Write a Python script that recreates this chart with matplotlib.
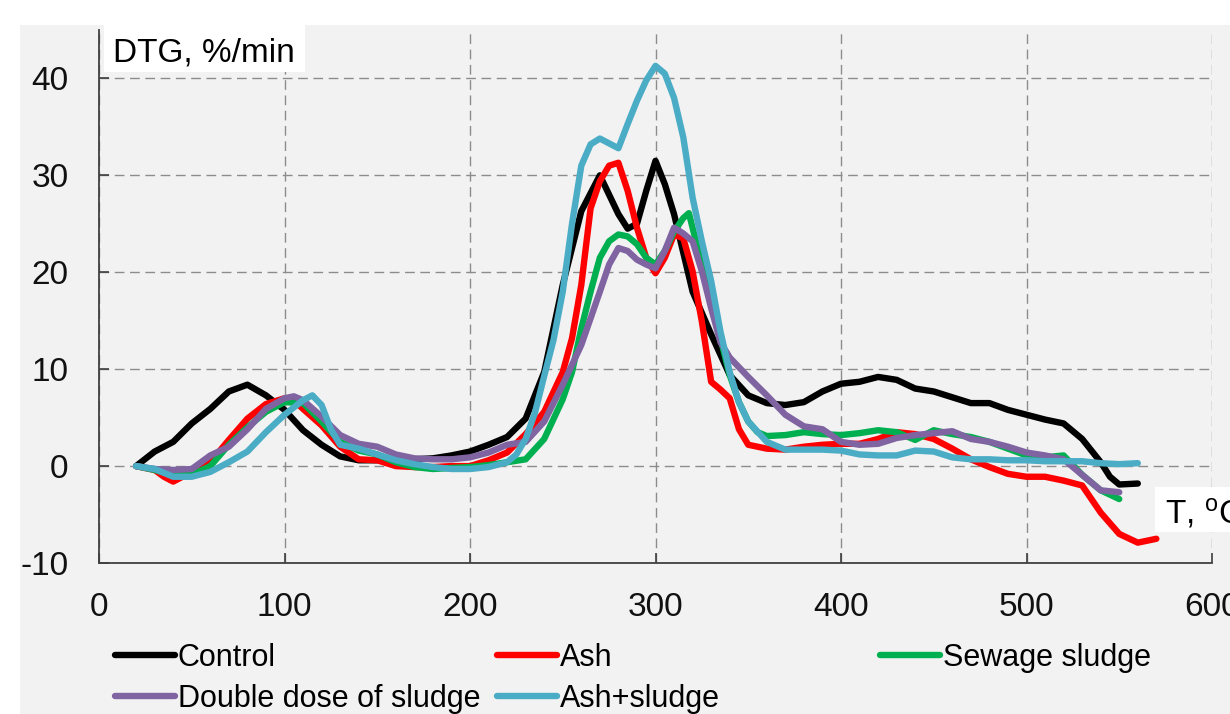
import matplotlib
matplotlib.use('Agg')
import matplotlib.pyplot as plt
from matplotlib.patches import Rectangle

# temperature (degC) and DTG (%/min)
control_t = [20, 30, 40, 50, 60, 70, 80, 90, 100, 110,
             120, 130, 140, 150, 160, 170, 180, 190, 200, 210,
             220, 230, 240, 250, 260, 270, 275, 280, 285, 290,
             295, 300, 305, 310, 320, 330, 340, 350, 360, 370,
             380, 390, 400, 410, 420, 430, 440, 450, 460, 470,
             480, 490, 500, 510, 520, 530, 540, 545, 550, 560]
control_v = [0, 1.5, 2.5, 4.4, 5.9, 7.7, 8.4, 7.3, 5.8, 3.7,
             2.2, 1.0, 0.6, 0.6, 0.6, 0.7, 0.8, 1.1, 1.5, 2.2,
             3.0, 4.9, 9.7, 18.7, 26.3, 30.0, 28.0, 26.0, 24.5, 25.0,
             28.4, 31.5, 29.1, 26.0, 18.0, 13.6, 9.4, 7.3, 6.5, 6.3,
             6.6, 7.7, 8.5, 8.7, 9.2, 8.9, 8.0, 7.7, 7.1, 6.5,
             6.5, 5.8, 5.3, 4.8, 4.4, 2.8, 0.4, -1.1, -1.9, -1.8]

ash_t = [20, 30, 35, 40, 45, 50, 60, 70, 80, 90,
         100, 105, 110, 120, 130, 140, 150, 160, 170, 180,
         190, 200, 210, 220, 230, 240, 250, 255, 260, 265,
         270, 275, 280, 285, 290, 295, 300, 305, 310, 315,
         320, 325, 330, 335, 340, 345, 350, 360, 370, 380,
         390, 400, 410, 420, 430, 440, 450, 460, 470, 480,
         490, 500, 510, 520, 530, 540, 550, 560, 570]
ash_v = [0, -0.4, -1.1, -1.6, -1.1, -0.8, 0.4, 2.7, 4.9, 6.4,
         7.0, 6.8, 5.9, 4.2, 2.0, 0.7, 0.6, 0.0, -0.1, -0.1,
         0.0, 0.0, 0.6, 1.4, 3.3, 5.6, 9.7, 13.2, 18.7, 26.6,
         29.4, 31.0, 31.3, 28.4, 24.6, 21.5, 19.9, 21.5, 23.9, 23.5,
         20.1, 14.9, 8.7, 7.9, 7.0, 3.8, 2.2, 1.8, 1.7, 2.0,
         2.2, 2.3, 2.3, 2.8, 3.5, 3.3, 2.8, 1.8, 0.7, -0.1,
         -0.8, -1.1, -1.1, -1.5, -2.0, -4.8, -7.0, -7.9, -7.5]

sludge_t = [20, 30, 40, 50, 60, 70, 80, 90, 100, 110,
            120, 130, 140, 150, 160, 170, 180, 190, 200, 210,
            220, 230, 240, 250, 255, 260, 265, 270, 275, 280,
            285, 290, 295, 300, 305, 310, 315, 318, 325, 330,
            335, 340, 345, 350, 355, 360, 370, 380, 390, 400,
            410, 420, 430, 440, 450, 460, 470, 480, 490, 500,
            510, 520, 530, 540, 550]
sludge_v = [0, -0.4, -0.9, -0.9, 0.0, 2.2, 4.0, 5.6, 6.6, 6.5,
            4.6, 2.5, 1.6, 1.2, 0.4, -0.1, -0.3, -0.2, -0.1, 0.1,
            0.4, 0.7, 2.8, 6.9, 9.7, 14.2, 18.0, 21.5, 23.2, 23.9,
            23.7, 22.9, 21.5, 20.8, 22.2, 24.2, 25.6, 26.1, 20.8, 17.0,
            13.2, 9.4, 6.6, 4.6, 3.5, 3.1, 3.2, 3.5, 3.3, 3.2,
            3.4, 3.7, 3.5, 2.7, 3.7, 3.3, 3.0, 2.5, 1.8, 1.1,
            0.9, 1.1, -0.9, -2.5, -3.4]

double_t = [20, 30, 40, 50, 60, 70, 80, 90, 100, 105,
            110, 120, 130, 140, 150, 160, 170, 180, 190, 200,
            210, 220, 230, 240, 250, 260, 270, 275, 280, 285,
            290, 295, 300, 305, 310, 315, 320, 325, 330, 335,
            340, 350, 360, 370, 380, 390, 400, 410, 420, 430,
            440, 450, 460, 470, 480, 490, 500, 510, 520, 530,
            540, 550]
double_v = [0, -0.3, -0.4, -0.3, 1.1, 2.0, 3.8, 5.9, 7.0, 7.2,
            6.8, 5.1, 3.2, 2.3, 2.0, 1.2, 0.8, 0.7, 0.7, 0.9,
            1.4, 2.2, 2.5, 4.6, 8.4, 12.5, 18.0, 20.8, 22.5, 22.2,
            21.3, 20.8, 20.4, 22.2, 24.6, 24.0, 23.2, 20.1, 16.3, 12.8,
            11.2, 9.2, 7.3, 5.3, 4.1, 3.8, 2.5, 2.2, 2.3, 2.9,
            3.2, 3.4, 3.6, 2.8, 2.5, 2.0, 1.4, 1.1, 0.7, -0.9,
            -2.5, -2.7]

ashsludge_t = [20, 30, 40, 50, 60, 70, 80, 90, 100, 110,
               115, 120, 125, 130, 140, 150, 160, 170, 180, 190,
               200, 210, 220, 225, 230, 235, 240, 245, 250, 255,
               260, 265, 270, 275, 280, 285, 290, 295, 300, 305,
               310, 315, 320, 325, 330, 335, 340, 345, 350, 360,
               370, 380, 390, 400, 410, 420, 430, 440, 450, 460,
               470, 480, 490, 500, 510, 520, 530, 540, 550, 560]
ashsludge_v = [0, -0.3, -1.1, -1.1, -0.6, 0.4, 1.5, 3.5, 5.3, 6.8,
               7.3, 6.3, 3.8, 2.2, 1.8, 1.2, 0.6, 0.2, -0.1, -0.3,
               -0.3, -0.1, 0.4, 1.2, 2.8, 5.5, 9.3, 13.0, 18.0, 25.0,
               31.0, 33.2, 33.8, 33.3, 32.8, 35.3, 37.7, 39.8, 41.3, 40.5,
               38.0, 33.9, 27.7, 23.2, 19.1, 13.9, 9.7, 6.6, 4.6, 2.5,
               1.7, 1.7, 1.7, 1.6, 1.2, 1.1, 1.1, 1.6, 1.5, 0.9,
               0.7, 0.7, 0.6, 0.6, 0.5, 0.5, 0.5, 0.3, 0.2, 0.3]

W, H = 1230, 714
BG = '#f2f2f2'

plt.rcParams['font.family'] = ['Liberation Sans', 'DejaVu Sans']
plt.rcParams['mathtext.fontset'] = 'custom'
plt.rcParams['mathtext.rm'] = 'Liberation Sans'
plt.rcParams['mathtext.default'] = 'regular'
plt.rcParams['axes.unicode_minus'] = False

fig = plt.figure(figsize=(W / 100, H / 100), dpi=100, facecolor='white')
fig.patches.append(Rectangle((20 / W, 0), 1 - 20 / W, 1 - 25 / H,
                             transform=fig.transFigure, facecolor=BG,
                             edgecolor='none', zorder=-10))

ax = fig.add_axes([99 / W, 1 - 563 / H, (1212 - 99) / W, (563 - 30) / H])
ax.set_facecolor('none')

lw = 4.6
line_kw = dict(lw=lw, solid_capstyle='round', solid_joinstyle='round')
h_control, = ax.plot(control_t, control_v, color='black', label='Control', **line_kw)
h_ash, = ax.plot(ash_t, ash_v, color='#ff0000', label='Ash', **line_kw)
h_sludge, = ax.plot(sludge_t, sludge_v, color='#00b050', label='Sewage sludge', **line_kw)
h_double, = ax.plot(double_t, double_v, color='#8064a2',
                    label='Double dose of sludge', **line_kw)
h_ashsl, = ax.plot(ashsludge_t, ashsludge_v, color='#4bacc6', label='Ash+sludge', **line_kw)

ax.set_xlim(0, 600)
ax.set_ylim(-10, 45)
ax.set_xticks(range(0, 601, 100))
ax.set_yticks(range(-10, 41, 10))
ax.grid(True, color='#8c8c8c', linestyle=(0, (7, 4)), linewidth=1.0)
ax.set_axisbelow(True)
for s in ['top', 'right']:
    ax.spines[s].set_visible(False)
for s in ['left', 'bottom']:
    ax.spines[s].set_color('#404040')
    ax.spines[s].set_linewidth(1.3)
ax.tick_params(direction='in', length=7, width=1.2, color='#404040',
               labelsize=24, labelcolor='#111111')
ax.tick_params(axis='y', pad=22)
ax.tick_params(axis='x', pad=21)

# axis captions in white boxes
fig.patches.append(Rectangle((104 / W, 1 - 72 / H), 201 / W, 47 / H,
                             transform=fig.transFigure, facecolor='white',
                             edgecolor='none', zorder=5))
fig.text(113 / W, 1 - 61 / H, 'DTG, %/min', fontsize=24, va='baseline',
         ha='left', zorder=6)
fig.patches.append(Rectangle((1155 / W, 1 - 532 / H), 75 / W, 45 / H,
                             transform=fig.transFigure, facecolor='white',
                             edgecolor='none', zorder=5))
fig.text(1165 / W, 1 - 523 / H, 'T, $^{o}$C', fontsize=24, va='baseline',
         ha='left', zorder=6)

leg_kw = dict(loc='upper left', frameon=False, fontsize=22, handlelength=1.95,
              handletextpad=0.1, borderpad=0, borderaxespad=0,
              labelspacing=0.36)
fig.legend(handles=[h_control, h_double], bbox_to_anchor=(115 / W, 1 - 643 / H), **leg_kw)
fig.legend(handles=[h_ash, h_ashsl], bbox_to_anchor=(497 / W, 1 - 643 / H), **leg_kw)
fig.legend(handles=[h_sludge], bbox_to_anchor=(880 / W, 1 - 643 / H), **leg_kw)

fig.savefig('out.png', dpi=100, facecolor='white')
